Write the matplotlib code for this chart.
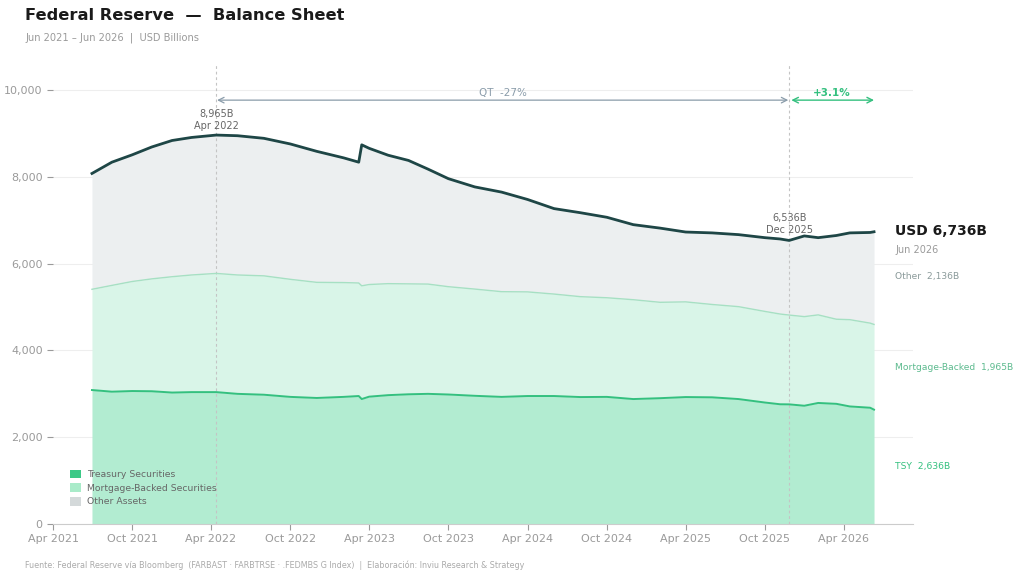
import matplotlib
matplotlib.use("Agg")
import matplotlib.pyplot as plt
import matplotlib.dates as mdates
import numpy as np
import pandas as pd
from matplotlib.patches import Patch

# ---- data (USD billions) ----
dates = ["2021-06-30", "2021-08-15", "2021-10-01", "2021-11-15", "2022-01-01", "2022-02-15",
         "2022-04-13", "2022-06-01", "2022-08-01", "2022-10-01", "2022-12-01", "2023-02-01",
         "2023-03-08", "2023-03-15", "2023-04-01", "2023-05-15", "2023-07-01", "2023-08-15",
         "2023-10-01", "2023-12-01", "2024-02-01", "2024-04-01", "2024-06-01", "2024-08-01",
         "2024-10-01", "2024-12-01", "2025-02-01", "2025-04-01", "2025-06-01", "2025-08-01",
         "2025-10-01", "2025-11-05", "2025-11-26", "2025-12-31", "2026-02-01", "2026-03-15",
         "2026-04-15", "2026-06-01", "2026-06-10"]
total = [8080, 8340, 8510, 8690, 8840, 8910,
         8965, 8950, 8890, 8760, 8590, 8440,
         8340, 8740, 8660, 8500, 8380, 8180,
         7960, 7770, 7650, 7480, 7270, 7175,
         7070, 6900, 6820, 6730, 6710, 6670,
         6600, 6570, 6536, 6640, 6600, 6650,
         6710, 6720, 6735.8]
tsy_mbs = [5410, 5500, 5590, 5650, 5700, 5740,
           5776, 5740, 5720, 5640, 5570, 5565,
           5555, 5490, 5520, 5540, 5535, 5530,
           5470, 5415, 5355, 5350, 5300, 5240,
           5215, 5170, 5110, 5120, 5060, 5010,
           4900, 4840, 4816, 4780, 4820, 4720,
           4710, 4630, 4600.2]
tsy = [3088, 3050, 3065, 3060, 3030, 3040,
       3040, 3000, 2980, 2930, 2905, 2930,
       2950, 2880, 2935, 2970, 2990, 3000,
       2985, 2955, 2930, 2950, 2950, 2926,
       2930, 2880, 2900, 2926, 2920, 2880,
       2800, 2760, 2758, 2726, 2790, 2770,
       2710, 2680, 2635.6]
peak_date, peak_val = "2022-04-13", 8965
trough_date, trough_val = "2025-11-26", 6536
peak_label, trough_label = "Apr 2022", "Dec 2025"
last_label = "Jun 2026"
xtick_dates = ["2021-04-01", "2021-10-01", "2022-04-01", "2022-10-01", "2023-04-01", "2023-10-01",
               "2024-04-01", "2024-10-01", "2025-04-01", "2025-10-01", "2026-04-01"]
ytick_vals = [0, 2000, 4000, 6000, 8000, 10000]

d = pd.to_datetime(dates)
total = np.array(total, float)
tsy_mbs = np.array(tsy_mbs, float)
tsy = np.array(tsy, float)
mbs = tsy_mbs - tsy
other = total - tsy_mbs

C_TSY_FILL = "#b2ecd1"
C_TSY_LINE = "#34c07f"
C_MBS_FILL = "#d9f5e8"
C_MBS_LINE = "#a6e0c3"
C_OTH_FILL = "#eceff0"
C_TOT_LINE = "#1e4646"
GREY = "#9a9a9a"

fig = plt.figure(figsize=(10.24, 5.77), dpi=100)
ax = fig.add_axes([53/1024, 1-524/577, (913-53)/1024, (524-65)/577])

ax.fill_between(d, 0, tsy, color=C_TSY_FILL, lw=0, zorder=1)
ax.fill_between(d, tsy, tsy_mbs, color=C_MBS_FILL, lw=0, zorder=1)
ax.fill_between(d, tsy_mbs, total, color=C_OTH_FILL, lw=0, zorder=1)
ax.plot(d, tsy, color=C_TSY_LINE, lw=1.4, zorder=3)
ax.plot(d, tsy_mbs, color=C_MBS_LINE, lw=1.0, zorder=3)
ax.plot(d, total, color=C_TOT_LINE, lw=2.0, zorder=4)

ax.set_xlim(pd.Timestamp("2021-04-01"), pd.Timestamp("2026-09-08"))
ax.set_ylim(0, 10580)
ax.set_yticks(ytick_vals)
ax.set_yticklabels([f"{v:,}" for v in ytick_vals])
ax.set_xticks(pd.to_datetime(xtick_dates))
ax.xaxis.set_major_formatter(mdates.DateFormatter("%b %Y"))
ax.tick_params(colors=GREY, labelsize=8, length=4, width=0.8)
for s in ["top", "right", "left"]:
    ax.spines[s].set_visible(False)
ax.spines["bottom"].set_color("#cccccc")
ax.grid(axis="y", color="#eeeeee", lw=0.8, zorder=0)
ax.set_axisbelow(True)

pk = pd.Timestamp(peak_date)
tr = pd.Timestamp(trough_date)
for xv in (pk, tr):
    ax.axvline(xv, color="#c4c4c4", lw=0.8, ls=(0, (2.5, 2.5)), zorder=2)

ax.text(pk, peak_val + 95, f"{peak_val:,}B\n{peak_label}", ha="center", va="bottom",
        fontsize=7, color="#666666", linespacing=1.3)
ax.text(tr, trough_val + 125, f"{trough_val:,}B\n{trough_label}",
        ha="center", va="bottom", fontsize=7, color="#666666", linespacing=1.3)

# QT arrow
qt_pct = (trough_val / peak_val - 1) * 100
y_arr = 9770
ax.annotate("", xy=(tr - pd.Timedelta(days=2), y_arr), xytext=(pk + pd.Timedelta(days=2), y_arr),
            arrowprops=dict(arrowstyle="<->", color="#8a9caa", lw=0.9, shrinkA=0, shrinkB=0))
mid = pk + (tr - pk) / 2
ax.text(mid, y_arr + 60, f"QT  {qt_pct:.0f}%", ha="center", va="bottom", fontsize=7.5, color="#8a9caa")

rec_pct = (total[-1] / trough_val - 1) * 100
ax.annotate("", xy=(d[-1], y_arr), xytext=(tr + pd.Timedelta(days=5), y_arr),
            arrowprops=dict(arrowstyle="<->", color=C_TSY_LINE, lw=1.0, shrinkA=0, shrinkB=0))
mid2 = tr + (d[-1] - tr) / 2
ax.text(mid2, y_arr + 60, f"+{rec_pct:.1f}%", ha="center", va="bottom", fontsize=7.5,
        color=C_TSY_LINE, fontweight="bold")

# right-side labels
xr = 895 / 1024
def fy(py):
    return 1 - py / 577
fig.text(xr, fy(231), f"USD {total[-1]:,.0f}B", fontsize=10, fontweight="bold", color="#1a1a1a", va="center")
fig.text(xr, fy(250), last_label, fontsize=7, color=GREY, va="center")
fig.text(xr, fy(277), f"Other  {other[-1]:,.0f}B", fontsize=6.6, color="#8a9a9a", va="center")
fig.text(xr, fy(367), f"Mortgage-Backed  {mbs[-1]:,.0f}B", fontsize=6.6, color="#5cba8e", va="center")
fig.text(xr, fy(466), f"TSY  {tsy[-1]:,.0f}B", fontsize=6.6, color=C_TSY_LINE, va="center")

# legend
handles = [Patch(facecolor="#3cc987", edgecolor="none", label="Treasury Securities"),
           Patch(facecolor="#a9ebc9", edgecolor="none", label="Mortgage-Backed Securities"),
           Patch(facecolor="#d4d9da", edgecolor="none", label="Other Assets")]
leg = ax.legend(handles=handles, loc="lower left", bbox_to_anchor=(0.0095, 0.02), frameon=False,
                fontsize=6.7, handlelength=1.2, handleheight=1.05, labelspacing=0.45, handletextpad=0.65)
for t in leg.get_texts():
    t.set_color("#666666")

fig.text(25/1024, fy(16), "Federal Reserve  —  Balance Sheet", fontsize=11.7, fontweight="bold",
         color="#1a1a1a", va="center")
fig.text(25/1024, fy(38), "Jun 2021 – Jun 2026  |  USD Billions", fontsize=7.1, color=GREY, va="center")
fig.text(25/1024, fy(565), "Fuente: Federal Reserve vía Bloomberg  (FARBAST · FARBTRSE · .FEDMBS G Index)  |  "
         "Elaboración: Inviu Research & Strategy", fontsize=5.8, color="#aaaaaa", va="center")

fig.savefig("out.png", dpi=100)
